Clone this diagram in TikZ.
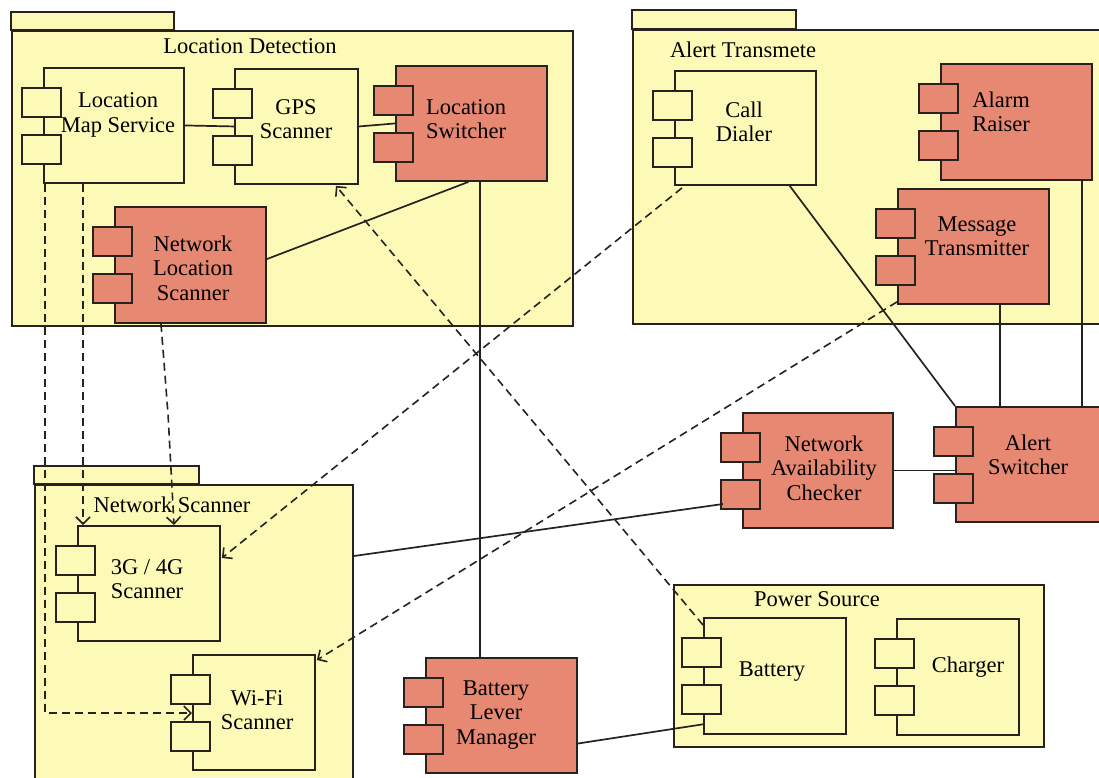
\documentclass[tikz,border=0pt]{standalone}
\usepackage{fontspec}
\setmainfont{Liberation Serif}
\usetikzlibrary{arrows.meta,calc}

\definecolor{pkgyellow}{RGB}{253,249,182}
\definecolor{compred}{RGB}{230,136,114}
\definecolor{edge}{RGB}{40,34,30}

\tikzset{
  outline/.style={draw=edge, line width=1.9pt},
  yellowpart/.style={outline, fill=pkgyellow},
  redpart/.style={outline, fill=compred},
  box/.style={rectangle, inner sep=0pt, anchor=north west},
  lbl/.style={align=center, font=\fontsize{22.5}{24.5}\selectfont, inner sep=0pt},
  pkgtitle/.style={font=\fontsize{22.5}{24.5}\selectfont, inner sep=0pt},
  link/.style={draw=edge, line width=1.7pt},
  dep/.style={draw=edge, line width=1.6pt, dash pattern=on 8pt off 5pt,
    -{Straight Barb[length=7pt,width=14pt]}}
}

% component: #1 name, #2-#5 body corners, #6 style, #7-#8 label centre, #9 label
\newcommand\umlcomp[9]{%
  \node[box,#6,minimum width={(#4-#2)*1pt},minimum height={(#5-#3)*1pt}] (#1) at (#2,#3) {};
  \path[#6] ({#2-21},{#3+21}) rectangle ({#2+18},{#3+50});
  \path[#6] ({#2-21},{#3+68}) rectangle ({#2+18},{#3+97});
  \node[lbl] (#1-label) at (#7,#8) {#9};
}
% package with tab: #1 name, #2-#5 body corners, #6 tab right, #7 tab top
\newcommand\umlpkg[7]{%
  \path[yellowpart] (#2,#7) rectangle (#6,#3);
  \node[box,yellowpart,minimum width={(#4-#2)*1pt},minimum height={(#5-#3)*1pt}] (#1) at (#2,#3) {};
}

\begin{document}
\begin{tikzpicture}[x=1pt,y=-1pt]
\useasboundingbox (0,0) rectangle (1099,777);
\clip (0,0) rectangle (1099,777);
\fill[white] (0,0) rectangle (1099,777);

% packages
\umlpkg{ld}{11}{30}{572}{325}{174}{12}
\node[pkgtitle] (ld-title) at (250,46) {Location Detection};
\umlpkg{at}{632}{29}{1112}{323}{796}{10}
\node[pkgtitle] (at-title) at (743,50) {Alert Transmete};
\umlpkg{ns}{34}{484}{352}{800}{199}{466}
\node[pkgtitle] (ns-title) at (172,505) {Network Scanner};
\node[box,yellowpart,minimum width=370pt,minimum height=162pt] (ps) at (673,584) {};
\node[pkgtitle] (ps-title) at (817,599) {Power Source};

% components
\umlcomp{lms}{43}{67}{183}{182}{yellowpart}{118}{115}{Location\\Map Service}
\umlcomp{gps}{234}{68}{357}{183}{yellowpart}{296}{119}{GPS\\Scanner}
\umlcomp{lsw}{395}{65}{546}{180}{redpart}{466}{119}{Location\\Switcher}
\umlcomp{nls}{114}{206}{265}{322}{redpart}{193}{268}{Network\\Location\\Scanner}
\umlcomp{cd}{674}{70}{815}{184}{yellowpart}{744}{122}{Call\\Dialer}
\umlcomp{ar}{940}{63}{1091}{179}{redpart}{1001}{112}{Alarm\\Raiser}
\umlcomp{mt}{897}{188}{1048}{303}{redpart}{977}{236}{Message\\Transmitter}
\umlcomp{nac}{742}{412}{892}{527}{redpart}{824}{468}{Network\\Availability\\Checker}
\umlcomp{as}{955}{406}{1112}{521}{redpart}{1028}{455}{Alert\\Switcher}
\umlcomp{gsm}{77}{525}{219}{640}{yellowpart}{147}{579}{3G / 4G\\Scanner}
\umlcomp{wifi}{192}{654}{314}{769}{yellowpart}{257}{710}{Wi-Fi\\Scanner}
\umlcomp{bat}{703}{617}{845}{733}{yellowpart}{772}{672}{Battery}
\umlcomp{chg}{896}{618}{1018}{734}{yellowpart}{968}{667}{Charger}
\umlcomp{blm}{425}{657}{576}{772}{redpart}{496}{715}{Battery\\Lever\\Manager}

% solid connectors
\draw[link] (lms.east) -- (gps.west);
\draw[link] (gps.east) -- (lsw.west);
\draw[link] ($(nls.north east)!0.45!(nls.south east)$) -- ($(lsw.south west)!0.48!(lsw.south east)$);
\draw[link] ($(lsw.south west)!0.556!(lsw.south east)$) coordinate (lswdown) -- (lswdown |- blm.north);
\draw[link] ($(blm.north east)!0.74!(blm.south east)$) -- ($(bat.north west)!0.91!(bat.south west)$);
\draw[link] ($(ns.north east)+(0,72)$) -- ($(nac.north west)+(-19,92)$);
\draw[link] (nac.east) -- (nac.east -| as.west);
\draw[link] ($(cd.south west)!0.81!(cd.south east)$) -- (as.north west);
\draw[link] ($(mt.south west)!0.675!(mt.south east)$) coordinate (mtdown) -- (mtdown |- as.north);
\draw[link] ($(ar.south west)!0.927!(ar.south east)$) coordinate (ardown) -- (ardown |- as.north);

% dependencies
\draw[dep] ($(lms.south west)+(2,0)$) |- ($(wifi.north west)+(0,59)$);
\draw[dep] ($(lms.south west)+(40,0)$) coordinate (lmsdep) -- (lmsdep |- gsm.north);
\draw[dep] ($(nls.south west)+(47,0)$) -- ++(7,90) -- ($(gsm.north west)+(97,0)$);
\draw[dep] ($(cd.south west)+(8,2)$) -- ($(gsm.north east)+(1,33)$);
\draw[dep] ($(mt.south west)+(0,-3)$) -- ($(wifi.north east)+(1,6)$);
\draw[dep] ($(bat.north west)+(0,8)$) -- ($(gps.south west)+(102,1)$);
\end{tikzpicture}
\end{document}
